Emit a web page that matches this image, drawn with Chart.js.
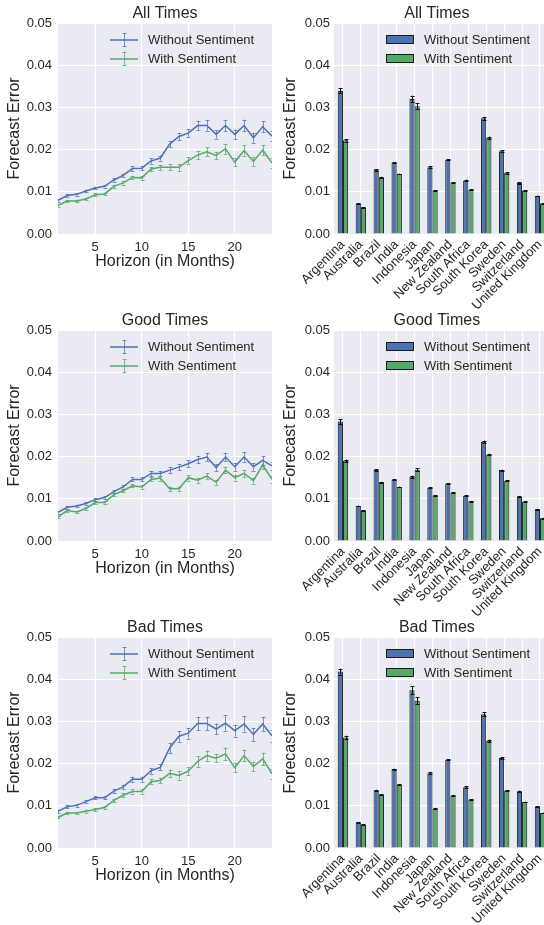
<!DOCTYPE html>
<html><head><meta charset="utf-8">
<script src="https://cdn.jsdelivr.net/npm/chart.js@4.4.1/dist/chart.umd.min.js"></script>
<style>
html,body{margin:0;padding:0;background:#fff;}
body{width:544px;height:925px;overflow:hidden;position:relative;}
canvas{position:absolute;display:block;}
</style></head>
<body>
<script>
// ---------------- DATA ----------------
const months = [1,2,3,4,5,6,7,8,9,10,11,12,13,14,15,16,17,18,19,20,21,22,23,24];
const horizonTicks = [5,10,15,20];
const seriesNames = ['Without Sentiment','With Sentiment'];
const panelTitles = ['All Times','Good Times','Bad Times'];

const allWithout    = [0.0080,0.0091,0.0094,0.0102,0.0109,0.0113,0.0128,0.0139,0.0155,0.0156,0.0173,0.0180,0.0213,0.0231,0.0239,0.0257,0.0257,0.0236,0.0257,0.0236,0.0257,0.0228,0.0254,0.0232];
const allWithoutErr = [0.0003,0.0003,0.0003,0.0003,0.0003,0.0003,0.0004,0.0004,0.0005,0.0005,0.0006,0.0006,0.0008,0.0009,0.0010,0.0011,0.0012,0.0010,0.0013,0.0011,0.0014,0.0012,0.0013,0.0012];
const allWith       = [0.0068,0.0078,0.0078,0.0083,0.0093,0.0095,0.0113,0.0121,0.0134,0.0133,0.0154,0.0158,0.0158,0.0158,0.0174,0.0187,0.0195,0.0186,0.0202,0.0170,0.0198,0.0172,0.0199,0.0168];
const allWithErr    = [0.0003,0.0003,0.0003,0.0003,0.0003,0.0003,0.0004,0.0004,0.0004,0.0005,0.0005,0.0006,0.0007,0.0008,0.0008,0.0009,0.0010,0.0009,0.0012,0.0010,0.0012,0.0010,0.0012,0.0011];

const goodWithout    = [0.0068,0.0080,0.0083,0.0089,0.0098,0.0103,0.0117,0.0128,0.0146,0.0146,0.0160,0.0160,0.0168,0.0175,0.0183,0.0193,0.0199,0.0174,0.0199,0.0176,0.0199,0.0176,0.0191,0.0178];
const goodWithoutErr = [0.0003,0.0003,0.0003,0.0003,0.0003,0.0003,0.0004,0.0004,0.0005,0.0005,0.0006,0.0006,0.0007,0.0007,0.0008,0.0009,0.0010,0.0008,0.0010,0.0009,0.0011,0.0009,0.0010,0.0009];
const goodWith       = [0.0057,0.0072,0.0069,0.0077,0.0091,0.0091,0.0110,0.0119,0.0131,0.0128,0.0146,0.0149,0.0124,0.0124,0.0150,0.0144,0.0154,0.0139,0.0168,0.0150,0.0160,0.0143,0.0180,0.0146];
const goodWithErr    = [0.0003,0.0003,0.0003,0.0003,0.0003,0.0003,0.0004,0.0004,0.0004,0.0005,0.0005,0.0006,0.0005,0.0005,0.0007,0.0006,0.0007,0.0006,0.0008,0.0007,0.0008,0.0007,0.0009,0.0008];

const badWithout    = [0.0087,0.0098,0.0101,0.0110,0.0119,0.0119,0.0135,0.0145,0.0163,0.0163,0.0183,0.0191,0.0237,0.0265,0.0272,0.0295,0.0295,0.0282,0.0296,0.0278,0.0294,0.0269,0.0294,0.0266];
const badWithoutErr = [0.0004,0.0004,0.0004,0.0004,0.0004,0.0004,0.0005,0.0005,0.0006,0.0006,0.0007,0.0007,0.0012,0.0013,0.0013,0.0016,0.0016,0.0013,0.0018,0.0014,0.0018,0.0015,0.0017,0.0014];
const badWith       = [0.0073,0.0083,0.0083,0.0087,0.0091,0.0096,0.0113,0.0125,0.0134,0.0134,0.0157,0.0160,0.0177,0.0172,0.0182,0.0205,0.0219,0.0213,0.0223,0.0190,0.0219,0.0193,0.0211,0.0176];
const badWithErr    = [0.0003,0.0003,0.0003,0.0004,0.0004,0.0004,0.0004,0.0005,0.0005,0.0005,0.0006,0.0006,0.0009,0.0010,0.0009,0.0012,0.0012,0.0010,0.0015,0.0011,0.0014,0.0011,0.0015,0.0012];

const countries = ['Argentina','Australia','Brazil','India','Indonesia','Japan','New Zealand','South Africa','South Korea','Sweden','Switzerland','United Kingdom'];

const barAllWithout    = [0.0339,0.0072,0.0152,0.0169,0.0320,0.0158,0.0176,0.0127,0.0274,0.0196,0.0121,0.0090];
const barAllWithoutErr = [0.0006,0.0001,0.0002,0.0001,0.0008,0.0002,0.0001,0.0002,0.0004,0.0002,0.0002,0.0001];
const barAllWith       = [0.0222,0.0063,0.0134,0.0142,0.0303,0.0103,0.0122,0.0105,0.0228,0.0145,0.0103,0.0072];
const barAllWithErr    = [0.0003,0.0001,0.0002,0.0001,0.0007,0.0001,0.0001,0.0001,0.0003,0.0002,0.0001,0.0001];

const barGoodWithout    = [0.0283,0.0083,0.0168,0.0146,0.0152,0.0126,0.0136,0.0107,0.0235,0.0168,0.0105,0.0075];
const barGoodWithoutErr = [0.0006,0.0001,0.0002,0.0001,0.0003,0.0001,0.0001,0.0001,0.0003,0.0001,0.0001,0.0001];
const barGoodWith       = [0.0190,0.0072,0.0139,0.0128,0.0169,0.0108,0.0114,0.0094,0.0205,0.0143,0.0093,0.0054];
const barGoodWithErr    = [0.0003,0.0001,0.0001,0.0001,0.0004,0.0001,0.0001,0.0001,0.0002,0.0001,0.0001,0.0001];

const barBadWithout    = [0.0418,0.0061,0.0136,0.0187,0.0374,0.0177,0.0209,0.0144,0.0317,0.0213,0.0134,0.0098];
const barBadWithoutErr = [0.0007,0.0001,0.0002,0.0001,0.0009,0.0002,0.0001,0.0002,0.0005,0.0002,0.0002,0.0001];
const barBadWith       = [0.0262,0.0055,0.0126,0.0150,0.0349,0.0093,0.0124,0.0115,0.0254,0.0136,0.0109,0.0083];
const barBadWithErr    = [0.0004,0.0001,0.0001,0.0001,0.0008,0.0001,0.0001,0.0001,0.0003,0.0001,0.0001,0.0001];

const yMin = 0, yMax = 0.05, yStep = 0.01;

// ---------------- STYLE ----------------
const BLUE = '#4C72B0', GREEN = '#55A868';
const BLUE_ERR = 'rgba(76,114,176,0.75)', GREEN_ERR = 'rgba(85,168,104,0.75)';
const TEXT = '#262626';
const FONT = '"Liberation Sans", Arial, Helvetica, sans-serif';
const BG = '#EAEAF2';
const ROW = 307;

function makeCanvas(left, top, w, h) {
  const c = document.createElement('canvas');
  c.width = w; c.height = h;
  c.style.left = left + 'px'; c.style.top = top + 'px';
  c.style.width = w + 'px'; c.style.height = h + 'px';
  document.body.appendChild(c);
  return c;
}

function textPlugin(title, xTitle, kind) {
  return {
    id: 'decor',
    beforeDraw(chart) {
      const {ctx, chartArea: a} = chart;
      ctx.save();
      ctx.fillStyle = BG;
      ctx.fillRect(a.left, a.top, a.right - a.left, a.bottom - a.top);
      ctx.restore();
    },
    afterDatasetsDraw(chart) {
      const {ctx, chartArea: a} = chart;
      const ys = chart.scales.y;
      ctx.save();
      ctx.beginPath();
      ctx.rect(a.left, a.top - 10, a.right - a.left, a.bottom - a.top + 10);
      ctx.clip();
      chart.data.datasets.forEach((ds, di) => {
        const meta = chart.getDatasetMeta(di);
        ctx.strokeStyle = ds.errColor;
        ctx.lineWidth = 1;
        meta.data.forEach((el, j) => {
          const v = ds.values[j], e = ds.errors[j];
          const x = Math.round(el.x) + 0.5;
          const y1 = ys.getPixelForValue(v - e), y2 = ys.getPixelForValue(v + e);
          const cw = ds.capHalf;
          ctx.beginPath();
          ctx.moveTo(x, y1); ctx.lineTo(x, y2);
          ctx.moveTo(x - cw, Math.round(y1) + 0.5); ctx.lineTo(x + cw, Math.round(y1) + 0.5);
          ctx.moveTo(x - cw, Math.round(y2) + 0.5); ctx.lineTo(x + cw, Math.round(y2) + 0.5);
          ctx.stroke();
        });
      });
      ctx.restore();
    },
    afterDraw(chart) {
      const {ctx, chartArea: a} = chart;
      const cx = (a.left + a.right) / 2;
      const visRight = kind === 'bar' ? a.right - 9.2 : a.right;
      const tcx = (a.left + visRight) / 2;
      ctx.save();
      ctx.fillStyle = TEXT;
      ctx.textAlign = 'center';
      ctx.textBaseline = 'middle';
      ctx.font = '16px ' + FONT;
      ctx.fillText(title, tcx, a.top - 9);
      if (xTitle) ctx.fillText(xTitle, tcx, a.bottom + 28);
      ctx.save();
      ctx.translate(a.left - 43, (a.top + a.bottom) / 2);
      ctx.rotate(-Math.PI / 2);
      ctx.fillText('Forecast Error', 0, 0);
      ctx.restore();
      // legend
      const cols = [BLUE, GREEN], errc = [BLUE_ERR, GREEN_ERR];
      ctx.font = '13px ' + FONT;
      ctx.textAlign = 'left';
      seriesNames.forEach((name, i) => {
        const yy = a.top + 17 + i * 19;
        const x0 = a.left + 52, x1 = a.left + 80;
        if (kind === 'line') {
          ctx.strokeStyle = cols[i]; ctx.lineWidth = 1.5;
          ctx.beginPath(); ctx.moveTo(x0, yy); ctx.lineTo(x1, yy); ctx.stroke();
          const mx = Math.round((x0 + x1) / 2) + 0.5;
          ctx.strokeStyle = errc[i]; ctx.lineWidth = 1;
          ctx.beginPath();
          ctx.moveTo(mx, yy - 7); ctx.lineTo(mx, yy + 7);
          ctx.moveTo(mx - 2, yy - 6.5); ctx.lineTo(mx + 2, yy - 6.5);
          ctx.moveTo(mx - 2, yy + 6.5); ctx.lineTo(mx + 2, yy + 6.5);
          ctx.stroke();
        } else {
          ctx.fillStyle = cols[i];
          ctx.fillRect(x0, yy - 5, x1 - x0, 9);
          ctx.strokeStyle = '#1a1a1a'; ctx.lineWidth = 1;
          ctx.strokeRect(x0 + 0.5, yy - 4.5, x1 - x0 - 1, 8);
        }
        ctx.fillStyle = TEXT;
        ctx.fillText(name, a.left + 90, yy);
      });
      ctx.restore();
    }
  };
}

function yScale(width, pad) {
  return {
    min: yMin, max: yMax,
    grid: { color: '#ffffff', lineWidth: 1, drawTicks: false },
    border: { display: false },
    ticks: { stepSize: yStep, color: TEXT, font: { family: FONT, size: 13 }, padding: pad,
             callback: v => Number(v).toFixed(2) },
    afterFit: s => { s.width = width; }
  };
}

function lineChart(row, title, wo, woErr, wi, wiErr) {
  const H = row === 2 ? 311 : 330;
  const c = makeCanvas(0, row * ROW, 272, H);
  const pts = arr => months.map((m, i) => ({ x: m, y: arr[i] }));
  new Chart(c, {
    type: 'line',
    data: {
      datasets: [
        { label: seriesNames[0], data: pts(wo), values: wo, errors: woErr, errColor: BLUE_ERR, capHalf: 2,
          borderColor: BLUE, borderWidth: 1.5, pointRadius: 0, tension: 0, fill: false },
        { label: seriesNames[1], data: pts(wi), values: wi, errors: wiErr, errColor: GREEN_ERR, capHalf: 2,
          borderColor: GREEN, borderWidth: 1.5, pointRadius: 0, tension: 0, fill: false }
      ]
    },
    options: {
      responsive: false, animation: false, devicePixelRatio: 1,
      layout: { padding: { top: 23, left: 0, right: 0, bottom: 0 } },
      plugins: { legend: { display: false }, tooltip: { enabled: false } },
      scales: {
        x: {
          type: 'linear', min: months[0], max: months[months.length - 1],
          grid: { color: '#ffffff', lineWidth: 1, drawTicks: false },
          border: { display: false },
          ticks: { color: TEXT, font: { family: FONT, size: 13 }, padding: 6, maxRotation: 0 },
          afterBuildTicks: s => { s.ticks = horizonTicks.map(v => ({ value: v })); },
          afterFit: s => { s.height = H - 234; }
        },
        y: yScale(58, 6)
      }
    },
    plugins: [textPlugin(title, 'Horizon (in Months)', 'line')]
  });
}

function barChart(row, title, wo, woErr, wi, wiErr) {
  const H = row === 2 ? 311 : 330;
  const c = makeCanvas(272, row * ROW, 282, H);
  new Chart(c, {
    type: 'bar',
    data: {
      labels: countries,
      datasets: [
        { label: seriesNames[0], data: wo, values: wo, errors: woErr, errColor: '#111111', capHalf: 2,
          backgroundColor: BLUE, borderColor: '#1a1a1a', borderWidth: 1,
          categoryPercentage: 0.58, barPercentage: 1.0 },
        { label: seriesNames[1], data: wi, values: wi, errors: wiErr, errColor: '#111111', capHalf: 2,
          backgroundColor: GREEN, borderColor: '#1a1a1a', borderWidth: 1,
          categoryPercentage: 0.58, barPercentage: 1.0 }
      ]
    },
    options: {
      responsive: false, animation: false, devicePixelRatio: 1,
      layout: { padding: { top: 23, left: 0, right: 0, bottom: 0 } },
      plugins: { legend: { display: false }, tooltip: { enabled: false } },
      scales: {
        x: {
          grid: { color: '#ffffff', lineWidth: 1, drawTicks: false, offset: false },
          border: { display: false },
          ticks: { color: TEXT, font: { family: FONT, size: 13 }, padding: 3,
                   maxRotation: 45, minRotation: 45, autoSkip: false },
          afterFit: s => { s.height = H - 234; }
        },
        y: yScale(62, 4)
      }
    },
    plugins: [textPlugin(title, null, 'bar')]
  });
}

lineChart(0, panelTitles[0], allWithout, allWithoutErr, allWith, allWithErr);
barChart(0, panelTitles[0], barAllWithout, barAllWithoutErr, barAllWith, barAllWithErr);
lineChart(1, panelTitles[1], goodWithout, goodWithoutErr, goodWith, goodWithErr);
barChart(1, panelTitles[1], barGoodWithout, barGoodWithoutErr, barGoodWith, barGoodWithErr);
lineChart(2, panelTitles[2], badWithout, badWithoutErr, badWith, badWithErr);
barChart(2, panelTitles[2], barBadWithout, barBadWithoutErr, barBadWith, barBadWithErr);
</script>
</body></html>
